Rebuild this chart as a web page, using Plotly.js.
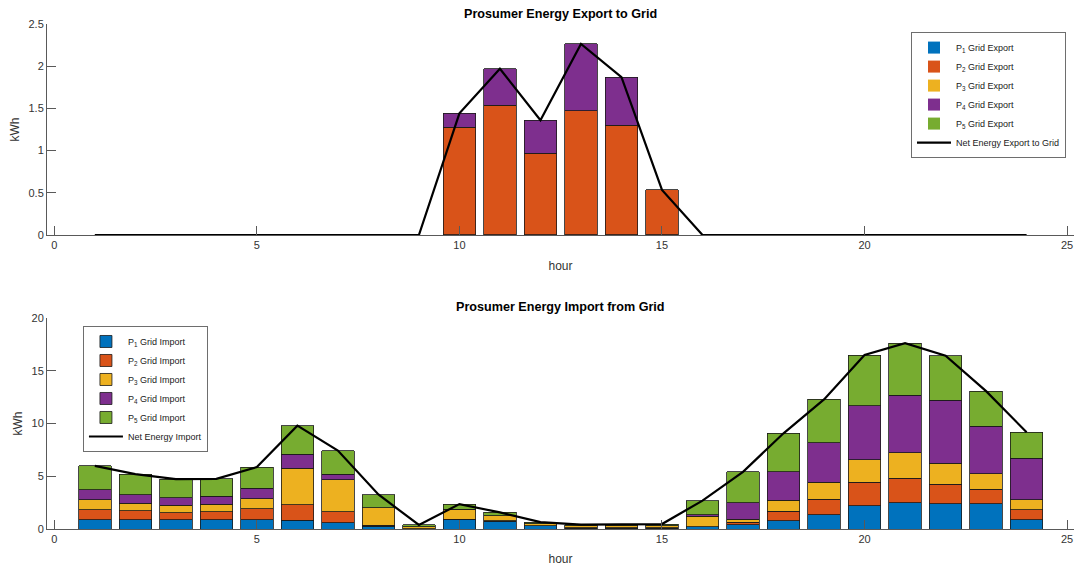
<!DOCTYPE html>
<html>
<head>
<meta charset="utf-8">
<script src="https://cdn.plot.ly/plotly-3.0.1.min.js"></script>
<style>
  html, body { margin: 0; padding: 0; background: #fff; }
  #chart { width: 1077px; height: 566px; }
</style>
</head>
<body>
<div id="chart"></div>
<script>
// Hours of the day
const hours = [1, 2, 3, 4, 5, 6, 7, 8, 9, 10, 11, 12, 13, 14, 15, 16, 17, 18, 19, 20, 21, 22, 23, 24];

// Energy exported to the grid per prosumer (kWh)
const p1Export = [0, 0, 0, 0, 0, 0, 0, 0, 0, 0, 0, 0, 0, 0, 0, 0, 0, 0, 0, 0, 0, 0, 0, 0];
const p2Export = [0, 0, 0, 0, 0, 0, 0, 0, 0, 1.277, 1.537, 0.967, 1.474, 1.301, 0.534, 0, 0, 0, 0, 0, 0, 0, 0, 0];
const p3Export = [0, 0, 0, 0, 0, 0, 0, 0, 0, 0, 0, 0, 0, 0, 0, 0, 0, 0, 0, 0, 0, 0, 0, 0];
const p4Export = [0, 0, 0, 0, 0, 0, 0, 0, 0, 0.165, 0.432, 0.393, 0.790, 0.570, 0, 0, 0, 0, 0, 0, 0, 0, 0, 0];
const p5Export = [0, 0, 0, 0, 0, 0, 0, 0, 0, 0, 0, 0, 0, 0, 0, 0, 0, 0, 0, 0, 0, 0, 0, 0];
const netExport = [0, 0, 0, 0, 0, 0, 0, 0, 0, 1.442, 1.969, 1.360, 2.264, 1.871, 0.534, 0, 0, 0, 0, 0, 0, 0, 0, 0];

// Energy imported from the grid per prosumer (kWh)
const p1Import = [0.90, 0.90, 0.90, 0.90, 0.90, 0.84, 0.58, 0.25, 0.02, 0.91, 0.75, 0.31, 0.05, 0.05, 0.05, 0.20, 0.40, 0.77, 1.34, 2.22, 2.47, 2.38, 2.38, 0.87];
const p2Import = [0.91, 0.82, 0.63, 0.72, 1.00, 1.44, 1.04, 0.10, 0.02, 0.02, 0.02, 0.02, 0.05, 0.05, 0.05, 0.02, 0.24, 0.91, 1.47, 2.20, 2.36, 1.88, 1.41, 0.94];
const p3Import = [0.94, 0.72, 0.72, 0.72, 0.98, 3.46, 3.05, 1.66, 0.15, 0.93, 0.50, 0.19, 0.20, 0.20, 0.22, 0.99, 0.29, 1.04, 1.61, 2.16, 2.39, 1.99, 1.47, 0.94];
const p4Import = [0.95, 0.79, 0.69, 0.76, 1.00, 1.35, 0.50, 0.02, 0.02, 0.02, 0, 0, 0, 0, 0, 0.16, 1.54, 2.73, 3.77, 5.10, 5.44, 5.94, 4.48, 3.97];
const p5Import = [2.29, 1.98, 1.79, 1.66, 1.99, 2.71, 2.27, 1.24, 0.17, 0.48, 0.30, 0.14, 0.11, 0.11, 0.15, 1.32, 2.95, 3.62, 4.09, 4.81, 4.96, 4.24, 3.33, 2.45];
const netImport = [5.99, 5.21, 4.73, 4.76, 5.87, 9.80, 7.44, 3.27, 0.38, 2.36, 1.57, 0.66, 0.41, 0.41, 0.47, 2.69, 5.42, 9.07, 12.28, 16.49, 17.62, 16.43, 13.07, 9.17];

// Axis ticks
const xTicks = [0, 5, 10, 15, 20, 25];
const yTicksExport = [0, 0.5, 1, 1.5, 2, 2.5];
const yTicksImport = [0, 5, 10, 15, 20];

const colors = ['#0072BD', '#D95319', '#EDB120', '#7E2F8E', '#77AC30'];
const FONT = 'Liberation Sans, Arial, Helvetica, sans-serif';

// Empty (zero) segments get no outline so they do not draw a line along the baseline
function barTrace(y, i, kind, xa, ya, leg) {
  return {
    type: 'bar', x: hours, y: y,
    name: 'P<sub>' + (i + 1) + '</sub> Grid ' + kind,
    marker: {
      color: colors[i],
      line: { color: '#1a1a1a', width: y.map(v => (v === 0 ? 0 : 0.8)) }
    },
    width: 0.8, xaxis: xa, yaxis: ya, legend: leg,
    legendgroup: leg + i, hoverinfo: 'x+y'
  };
}

const exportSeries = [p1Export, p2Export, p3Export, p4Export, p5Export];
const importSeries = [p1Import, p2Import, p3Import, p4Import, p5Import];

const traces = [];
exportSeries.forEach((s, i) => traces.push(barTrace(s, i, 'Export', 'x', 'y', 'legend')));
traces.push({
  type: 'scatter', mode: 'lines', x: hours, y: netExport,
  name: 'Net Energy Export to Grid', line: { color: '#000', width: 2.2 },
  xaxis: 'x', yaxis: 'y', legend: 'legend', legendgroup: 'legend5'
});
importSeries.forEach((s, i) => traces.push(barTrace(s, i, 'Import', 'x2', 'y2', 'legend2')));
traces.push({
  type: 'scatter', mode: 'lines', x: hours, y: netImport,
  name: 'Net Energy Import', line: { color: '#000', width: 2.2 },
  xaxis: 'x2', yaxis: 'y2', legend: 'legend2', legendgroup: 'legend25'
});

const axisCommon = {
  showline: true, linecolor: '#595959', linewidth: 1,
  ticks: 'inside', ticklen: 9, tickcolor: '#595959', tickwidth: 1,
  showgrid: false, zeroline: false, mirror: false,
  tickfont: { family: FONT, size: 11, color: '#333' }
};

const xTitle = { text: 'hour', font: { family: FONT, size: 12, color: '#333' }, standoff: 11 };
const yTitle = { text: 'kWh', font: { family: FONT, size: 12, color: '#333' }, standoff: 6 };

const legendCommon = {
  bgcolor: '#fff', bordercolor: '#6e6e6e', borderwidth: 1,
  font: { family: FONT, size: 9, color: '#1a1a1a' },
  traceorder: 'normal', tracegroupgap: 0, itemwidth: 34,
  itemclick: false, itemdoubleclick: false
};

const layout = {
  width: 1077, height: 566,
  margin: { l: 47, r: 3, t: 24, b: 37 },
  paper_bgcolor: '#fff', plot_bgcolor: '#fff',
  barmode: 'stack',
  showlegend: true,
  xaxis: Object.assign({}, axisCommon, {
    domain: [0, 1], anchor: 'y', range: [-0.18, 25.17],
    tickvals: xTicks, title: xTitle
  }),
  yaxis: Object.assign({}, axisCommon, {
    domain: [0.5822, 1], anchor: 'x', range: [0, 2.5],
    tickvals: yTicksExport, title: yTitle
  }),
  xaxis2: Object.assign({}, axisCommon, {
    domain: [0, 1], anchor: 'y2', range: [-0.18, 25.17],
    tickvals: xTicks, title: xTitle
  }),
  yaxis2: Object.assign({}, axisCommon, {
    domain: [0, 0.4178], anchor: 'x2', range: [0, 20],
    tickvals: yTicksImport, title: yTitle
  }),
  legend: Object.assign({}, legendCommon, {
    x: 0.9922, xanchor: 'right', y: 0.984, yanchor: 'top'
  }),
  legend2: Object.assign({}, legendCommon, {
    x: 0.035, xanchor: 'left', y: 0.402, yanchor: 'top'
  }),
  annotations: [
    {
      text: '<b>Prosumer Energy Export to Grid</b>', xref: 'paper', yref: 'paper',
      x: 0.5, y: 1.0198, xanchor: 'center', yanchor: 'middle', showarrow: false,
      font: { family: FONT, size: 12.6, color: '#000' }
    },
    {
      text: '<b>Prosumer Energy Import from Grid</b>', xref: 'paper', yref: 'paper',
      x: 0.5, y: 0.4396, xanchor: 'center', yanchor: 'middle', showarrow: false,
      font: { family: FONT, size: 12.6, color: '#000' }
    }
  ]
};

Plotly.newPlot('chart', traces, layout, { staticPlot: true, displayModeBar: false });
</script>
</body>
</html>
